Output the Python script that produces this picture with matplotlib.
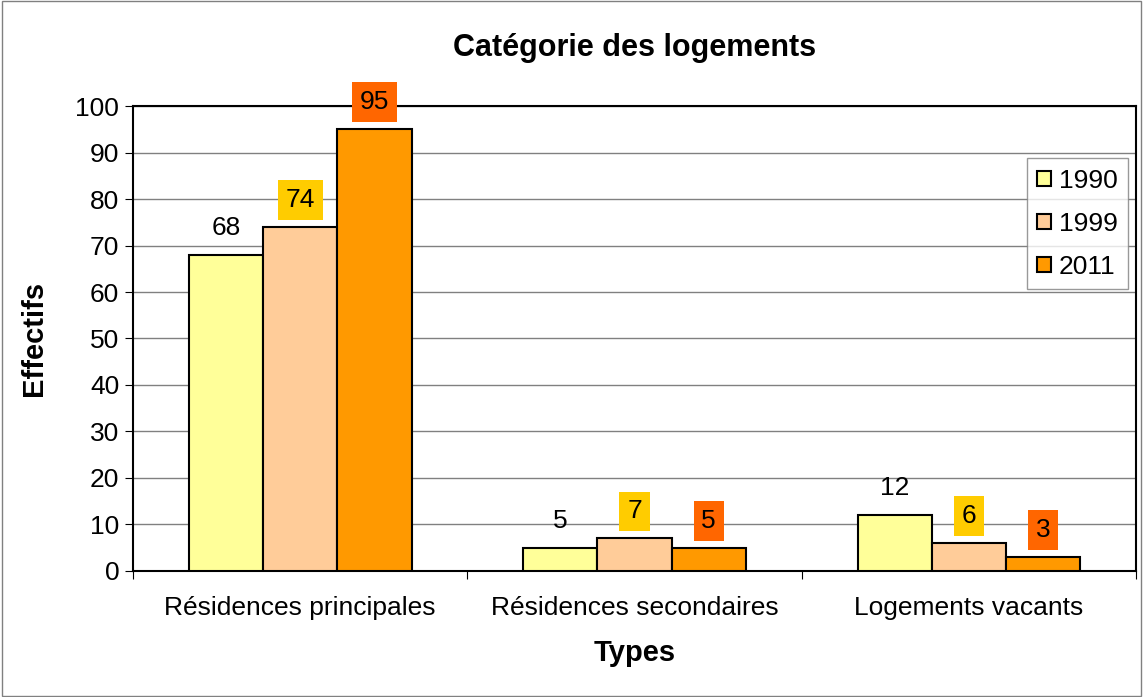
import numpy as np
import matplotlib.pyplot as plt
from matplotlib.patches import Rectangle

categories = ['Résidences principales', 'Résidences secondaires', 'Logements vacants']
years = ['1990', '1999', '2011']
values_1990 = [68, 5, 12]
values_1999 = [74, 7, 6]
values_2011 = [95, 5, 3]

bar_colors = ['#FFFF99', '#FFCC99', '#FF9900']
label_bg = [None, '#FFCC00', '#FF6600']

plt.rcParams['font.family'] = ['Liberation Sans', 'DejaVu Sans']

fig = plt.figure(figsize=(11.43, 6.97), dpi=100)
ax = fig.add_axes([0.1164, 0.1808, 0.8775, 0.6671])
fig.patches.append(Rectangle((0.002, 0.002), 0.996, 0.996, transform=fig.transFigure,
                             fill=False, edgecolor='#808080', linewidth=1))

x = np.arange(len(categories))
w = 0.222
for i, (vals, yr) in enumerate(zip([values_1990, values_1999, values_2011], years)):
    pos = x + (i - 1) * w
    ax.bar(pos, vals, w, color=bar_colors[i], edgecolor='black', linewidth=1.5,
           label=yr, zorder=3)
    for p, v in zip(pos, vals):
        bbox = None
        if label_bg[i]:
            bbox = dict(boxstyle='square,pad=0.3', facecolor=label_bg[i], edgecolor='none')
        ax.text(p, v + 5.8, str(v), ha='center', va='center', fontsize=19, bbox=bbox, zorder=4)

ax.set_xlim(-0.5, 2.5)
ax.set_ylim(0, 100)
ax.set_yticks(range(0, 101, 10))
ax.yaxis.grid(True, color='#808080', linewidth=1, zorder=0)
ax.set_xticks([-0.5, 0.5, 1.5, 2.5], minor=False)
ax.set_xticklabels([])
ax.set_xticks(x, minor=True)
ax.set_xticklabels(categories, minor=True, fontsize=19)
ax.tick_params(axis='x', which='minor', length=0, pad=18)
ax.tick_params(axis='x', which='major', length=6, direction='out')
ax.tick_params(axis='y', labelsize=19, length=6, direction='out', pad=4)
for s in ax.spines.values():
    s.set_linewidth(1.5)

ax.set_title('Catégorie des logements', fontsize=22, fontweight='bold', pad=36)
ax.set_xlabel('Types', fontsize=21, fontweight='bold', labelpad=14)
ax.set_ylabel('Effectifs', fontsize=21, fontweight='bold', labelpad=20)

leg = ax.legend(loc='upper right', bbox_to_anchor=(0.992, 0.888), fontsize=19,
                frameon=True, fancybox=False, edgecolor='#808080', handlelength=0.5,
                handleheight=0.5, handletextpad=0.3, labelspacing=0.72, borderpad=0.4,
                borderaxespad=0)
leg.get_frame().set_linewidth(1)

fig.savefig('out.png', dpi=100)
